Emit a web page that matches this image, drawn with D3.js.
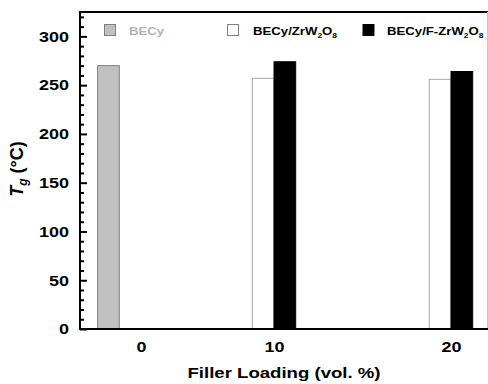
<!DOCTYPE html>
<html>
<head>
<meta charset="utf-8">
<script src="https://cdn.jsdelivr.net/npm/d3@7"></script>
<style>
  body { margin: 0; background: #fff; }
  text { font-family: "Liberation Sans", Arial, sans-serif; font-weight: bold; }
</style>
</head>
<body>
<div id="chart"></div>
<script>
// data
var categories = ["0", "10", "20"];
var seriesNames = ["BECy", "BECy/ZrW2O8", "BECy/F-ZrW2O8"];
var becy = [270, null, null];
var becyZr = [null, 257, 256];
var becyFZr = [null, 274, 264];
var yTicks = [0, 50, 100, 150, 200, 250, 300];
var yMinorTicks = d3.range(10, 330, 10).filter(function(d) { return d % 50 != 0; });

var width = 488, height = 384;
var plotLeft = 80, plotTop = 12, plotBottom = 329;
var barW = 21.7;
var sx = 1.2; // the original is stretched sideways

var svg = d3.select('#chart').append('svg')
  .attr('width', width).attr('height', height);

var y = d3.scaleLinear().domain([0, 325]).range([plotBottom, plotTop]);
// category centres are not evenly spaced in the original
var x = d3.scaleOrdinal().domain(categories).range([141, 274, 451]);
var xs = d3.scaleBand().domain(seriesNames).range([-2 * barW, barW]);

var series = [
  { name: seriesNames[0], values: becy, fill: '#c0c0c0', stroke: '#808080' },
  { name: seriesNames[1], values: becyZr, fill: '#ffffff', stroke: '#a8a8a8' },
  { name: seriesNames[2], values: becyFZr, fill: '#000000', stroke: '#000000' }
];

// bars
series.forEach(function(s) {
  var pts = categories.map(function(c, i) { return { c: c, v: s.values[i] }; })
    .filter(function(d) { return d.v != null; });
  svg.append('g').selectAll('rect')
    .data(pts)
    .enter().append('rect')
    .attr('x', function(d) { return x(d.c) + xs(s.name); })
    .attr('y', function(d) { return y(d.v); })
    .attr('width', xs.bandwidth())
    .attr('height', function(d) { return y(0) - y(d.v); })
    .attr('fill', s.fill)
    .attr('stroke', s.stroke)
    .attr('stroke-width', 1);
});

// frame lines
svg.append('line').attr('x1', plotLeft).attr('x2', width).attr('y1', plotTop).attr('y2', plotTop)
  .attr('stroke', '#000').attr('stroke-width', 2);
svg.append('line').attr('x1', width - 0.5).attr('x2', width - 0.5).attr('y1', plotTop).attr('y2', plotBottom)
  .attr('stroke', '#c8c8c8').attr('stroke-width', 1);

// y axis, ticks pointing in
var yAxis = svg.append('g').attr('transform', 'translate(' + plotLeft + ',0)')
  .call(d3.axisLeft(y).tickValues(yTicks).tickSizeInner(-7).tickSizeOuter(0).tickPadding(11 / sx));
yAxis.select('.domain').remove();
yAxis.selectAll('line').attr('stroke', '#000').attr('stroke-width', 2);
yAxis.selectAll('text')
  .attr('font-size', 15).attr('font-family', '"Liberation Sans", Arial, sans-serif')
  .attr('font-weight', 'bold').attr('fill', '#000')
  .attr('transform', 'scale(' + sx + ',1)');

var yMinor = svg.append('g').attr('transform', 'translate(' + plotLeft + ',0)')
  .call(d3.axisLeft(y).tickValues(yMinorTicks).tickSizeInner(-4).tickSizeOuter(0).tickFormat(''));
yMinor.select('.domain').remove();
yMinor.selectAll('line').attr('stroke', '#000').attr('stroke-width', 2);

svg.append('line').attr('x1', plotLeft).attr('x2', plotLeft).attr('y1', plotTop - 1).attr('y2', plotBottom + 1)
  .attr('stroke', '#000').attr('stroke-width', 2);

// x axis
var xAxis = svg.append('g').attr('transform', 'translate(0,' + plotBottom + ')')
  .call(d3.axisBottom(x).tickSize(0));
xAxis.select('.domain').remove();
xAxis.selectAll('text')
  .attr('y', 23).attr('dy', 0).attr('x', 0)
  .attr('font-size', 15).attr('font-family', '"Liberation Sans", Arial, sans-serif')
  .attr('font-weight', 'bold').attr('fill', '#000')
  .attr('transform', 'scale(' + sx + ',1)');
svg.append('line').attr('x1', plotLeft).attr('x2', width).attr('y1', plotBottom).attr('y2', plotBottom)
  .attr('stroke', '#000').attr('stroke-width', 2);

// axis titles
svg.append('text')
  .attr('transform', 'translate(284,377.5) scale(' + sx + ',1)')
  .attr('text-anchor', 'middle')
  .attr('font-size', 15.5)
  .text('Filler Loading (vol. %)');

var yt = svg.append('text')
  .attr('transform', 'translate(23,169) rotate(-90)')
  .attr('text-anchor', 'middle')
  .attr('font-size', 18);
yt.append('tspan').attr('font-style', 'italic').text('T');
yt.append('tspan').attr('font-style', 'italic').attr('font-size', 12).attr('dy', 4).text('g');
yt.append('tspan').attr('dy', -4).text(' (\u00B0C)');

// legend
var legend = [
  { label: ['BECy'], sq: 104, tx: 129, fill: '#c0c0c0', stroke: '#808080', color: '#b4b4b4' },
  { label: ['BECy/ZrW', '2', 'O', '8'], sq: 227, tx: 253, fill: '#ffffff', stroke: '#808080', color: '#000' },
  { label: ['BECy/F-ZrW', '2', 'O', '8'], sq: 362.5, tx: 387, fill: '#000000', stroke: '#000000', color: '#000' }
];
legend.forEach(function(l) {
  svg.append('rect').attr('x', l.sq + 0.5).attr('y', 24.5).attr('width', 11).attr('height', 11)
    .attr('fill', l.fill).attr('stroke', l.stroke);
  var t = svg.append('text')
    .attr('transform', 'translate(' + l.tx + ',35) scale(' + sx + ',1)')
    .attr('font-size', 11).attr('fill', l.color);
  l.label.forEach(function(s, i) {
    var sub = i % 2 == 1;
    t.append('tspan')
      .attr('font-size', sub ? 7 : 11)
      .attr('dy', sub ? 3 : (i > 0 ? -3 : 0))
      .text(s);
  });
});
</script>
</body>
</html>
